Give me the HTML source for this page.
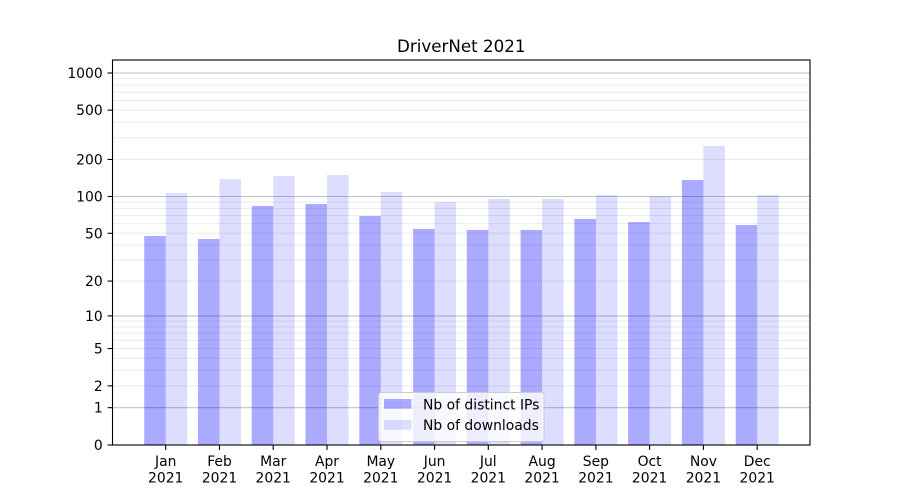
<!DOCTYPE html>
<html><head><meta charset="utf-8"><style>
html,body{margin:0;padding:0;background:#fff;}
svg{display:block;}
text{font-family:"DejaVu Sans","Liberation Sans",sans-serif;fill:#000;}
</style></head><body>
<svg width="900" height="500" viewBox="0 0 900 500" xmlns="http://www.w3.org/2000/svg">
<rect width="900" height="500" fill="#fff"/>
<!-- minor grid -->
<g stroke="#ebebeb" stroke-width="1">
<line x1="112.5" x2="810" y1="385.85" y2="385.85"/>
<line x1="112.5" x2="810" y1="370.35" y2="370.35"/>
<line x1="112.5" x2="810" y1="358.34" y2="358.34"/>
<line x1="112.5" x2="810" y1="348.52" y2="348.52"/>
<line x1="112.5" x2="810" y1="340.22" y2="340.22"/>
<line x1="112.5" x2="810" y1="333.03" y2="333.03"/>
<line x1="112.5" x2="810" y1="326.70" y2="326.70"/>
<line x1="112.5" x2="810" y1="321.02" y2="321.02"/>
<line x1="112.5" x2="810" y1="281.07" y2="281.07"/>
<line x1="112.5" x2="810" y1="260.10" y2="260.10"/>
<line x1="112.5" x2="810" y1="245.04" y2="245.04"/>
<line x1="112.5" x2="810" y1="233.29" y2="233.29"/>
<line x1="112.5" x2="810" y1="223.66" y2="223.66"/>
<line x1="112.5" x2="810" y1="215.48" y2="215.48"/>
<line x1="112.5" x2="810" y1="208.38" y2="208.38"/>
<line x1="112.5" x2="810" y1="202.12" y2="202.12"/>
<line x1="112.5" x2="810" y1="159.45" y2="159.45"/>
<line x1="112.5" x2="810" y1="137.70" y2="137.70"/>
<line x1="112.5" x2="810" y1="122.27" y2="122.27"/>
<line x1="112.5" x2="810" y1="110.17" y2="110.17"/>
<line x1="112.5" x2="810" y1="100.47" y2="100.47"/>
<line x1="112.5" x2="810" y1="92.19" y2="92.19"/>
<line x1="112.5" x2="810" y1="85.01" y2="85.01"/>
<line x1="112.5" x2="810" y1="78.67" y2="78.67"/>
</g>
<!-- major grid -->
<g stroke="#c2c2c2" stroke-width="1.1">
<line x1="112.5" x2="810" y1="407.68" y2="407.68"/>
<line x1="112.5" x2="810" y1="315.89" y2="315.89"/>
<line x1="112.5" x2="810" y1="196.50" y2="196.50"/>
<line x1="112.5" x2="810" y1="73.0" y2="73.0"/>
</g>
<!-- bars IPs -->
<g fill="#0000ff" fill-opacity="0.333">
<rect x="144.2" y="236" width="21.5" height="209"/>
<rect x="198.0" y="239" width="21.5" height="206"/>
<rect x="251.7" y="206" width="21.5" height="239"/>
<rect x="305.5" y="204" width="21.5" height="241"/>
<rect x="359.3" y="216" width="21.5" height="229"/>
<rect x="413.1" y="229" width="21.5" height="216"/>
<rect x="466.8" y="230" width="21.5" height="215"/>
<rect x="520.6" y="230" width="21.5" height="215"/>
<rect x="574.4" y="219" width="21.5" height="226"/>
<rect x="628.1" y="222" width="21.5" height="223"/>
<rect x="681.9" y="180" width="21.5" height="265"/>
<rect x="735.7" y="225" width="21.5" height="220"/>
</g>
<!-- bars downloads -->
<g fill="#0000ff" fill-opacity="0.133">
<rect x="165.7" y="193" width="21.5" height="252"/>
<rect x="219.5" y="179" width="21.5" height="266"/>
<rect x="273.2" y="176" width="21.5" height="269"/>
<rect x="327.0" y="175" width="21.5" height="270"/>
<rect x="380.8" y="192" width="21.5" height="253"/>
<rect x="434.6" y="202" width="21.5" height="243"/>
<rect x="488.3" y="199" width="21.5" height="246"/>
<rect x="542.1" y="199" width="21.5" height="246"/>
<rect x="595.9" y="195" width="21.5" height="250"/>
<rect x="649.6" y="196" width="21.5" height="249"/>
<rect x="703.4" y="146" width="21.5" height="299"/>
<rect x="757.2" y="195" width="21.5" height="250"/>
</g>
<!-- frame -->
<rect x="112.5" y="60" width="697.5" height="385" fill="none" stroke="#000" stroke-width="1.1"/>
<!-- y ticks -->
<g stroke="#000" stroke-width="1.1">
<line x1="107.6" x2="112.5" y1="445" y2="445"/>
<line x1="107.6" x2="112.5" y1="407.68" y2="407.68"/>
<line x1="107.6" x2="112.5" y1="385.85" y2="385.85"/>
<line x1="107.6" x2="112.5" y1="348.52" y2="348.52"/>
<line x1="107.6" x2="112.5" y1="315.89" y2="315.89"/>
<line x1="107.6" x2="112.5" y1="281.07" y2="281.07"/>
<line x1="107.6" x2="112.5" y1="233.29" y2="233.29"/>
<line x1="107.6" x2="112.5" y1="196.50" y2="196.50"/>
<line x1="107.6" x2="112.5" y1="159.45" y2="159.45"/>
<line x1="107.6" x2="112.5" y1="110.17" y2="110.17"/>
<line x1="107.6" x2="112.5" y1="73.0" y2="73.0"/>
</g>
<g font-size="13.9" text-anchor="end">
<text x="102.7" y="450">0</text>
<text x="102.7" y="412.7">1</text>
<text x="102.7" y="390.9">2</text>
<text x="102.7" y="353.6">5</text>
<text x="102.7" y="320.9">10</text>
<text x="102.7" y="286.1">20</text>
<text x="102.7" y="238.3">50</text>
<text x="102.7" y="201.5">100</text>
<text x="102.7" y="164.5">200</text>
<text x="102.7" y="115.2">500</text>
<text x="102.7" y="78">1000</text>
</g>
<!-- x ticks -->
<g stroke="#000" stroke-width="1.1">
<line x1="165.7" x2="165.7" y1="445" y2="449.9"/>
<line x1="219.5" x2="219.5" y1="445" y2="449.9"/>
<line x1="273.2" x2="273.2" y1="445" y2="449.9"/>
<line x1="327.0" x2="327.0" y1="445" y2="449.9"/>
<line x1="380.8" x2="380.8" y1="445" y2="449.9"/>
<line x1="434.6" x2="434.6" y1="445" y2="449.9"/>
<line x1="488.3" x2="488.3" y1="445" y2="449.9"/>
<line x1="542.1" x2="542.1" y1="445" y2="449.9"/>
<line x1="595.9" x2="595.9" y1="445" y2="449.9"/>
<line x1="649.6" x2="649.6" y1="445" y2="449.9"/>
<line x1="703.4" x2="703.4" y1="445" y2="449.9"/>
<line x1="757.2" x2="757.2" y1="445" y2="449.9"/>
</g>
<g font-size="13.9" text-anchor="middle">
<text x="165.7" y="466">Jan</text><text x="165.7" y="482.5">2021</text>
<text x="219.5" y="466">Feb</text><text x="219.5" y="482.5">2021</text>
<text x="273.2" y="466">Mar</text><text x="273.2" y="482.5">2021</text>
<text x="327.0" y="466">Apr</text><text x="327.0" y="482.5">2021</text>
<text x="380.8" y="466">May</text><text x="380.8" y="482.5">2021</text>
<text x="434.6" y="466">Jun</text><text x="434.6" y="482.5">2021</text>
<text x="488.3" y="466">Jul</text><text x="488.3" y="482.5">2021</text>
<text x="542.1" y="466">Aug</text><text x="542.1" y="482.5">2021</text>
<text x="595.9" y="466">Sep</text><text x="595.9" y="482.5">2021</text>
<text x="649.6" y="466">Oct</text><text x="649.6" y="482.5">2021</text>
<text x="703.4" y="466">Nov</text><text x="703.4" y="482.5">2021</text>
<text x="757.2" y="466">Dec</text><text x="757.2" y="482.5">2021</text>
</g>
<!-- title -->
<text x="461.25" y="52" font-size="16.7" text-anchor="middle">DriverNet 2021</text>
<!-- legend -->
<rect x="378.5" y="392.5" width="165.5" height="49" rx="2.8" ry="2.8" fill="#fff" fill-opacity="0.8" stroke="#cccccc" stroke-width="1.1"/>
<rect x="384" y="399" width="27.5" height="9.7" fill="#0000ff" fill-opacity="0.333"/>
<rect x="384" y="420" width="27.5" height="9.7" fill="#0000ff" fill-opacity="0.133"/>
<g font-size="13.9">
<text x="423" y="409.3">Nb of distinct IPs</text>
<text x="423" y="430">Nb of downloads</text>
</g>
</svg>
</body></html>
